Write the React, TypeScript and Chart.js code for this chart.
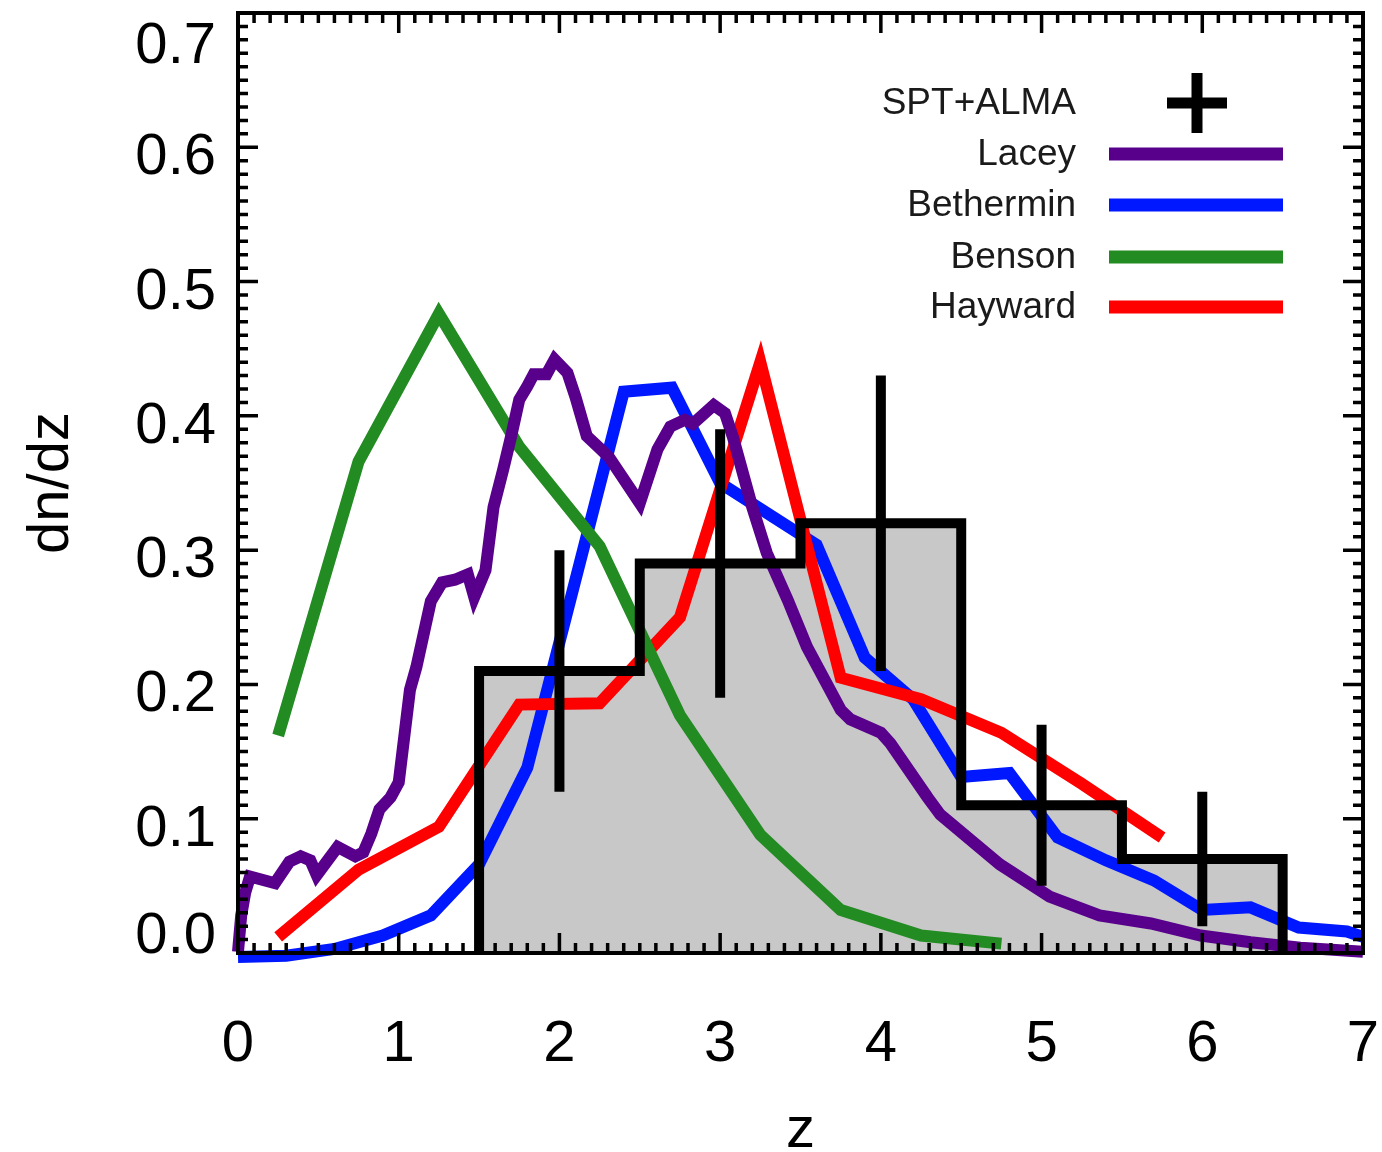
import React, { useEffect, useRef } from "react";
import { Chart, registerables } from "chart.js";

Chart.register(...registerables);

// ---------- data ----------
const xTickValues = [0, 1, 2, 3, 4, 5, 6, 7];
const xTickLabels = ["0", "1", "2", "3", "4", "5", "6", "7"];
const yTickValues = [0, 0.1, 0.2, 0.3, 0.4, 0.5, 0.6, 0.7];
const yTickLabels = ["0.0", "0.1", "0.2", "0.3", "0.4", "0.5", "0.6", "0.7"];
const xTitle = "z";
const yTitle = "dn/dz";

// SPT+ALMA histogram and error bars
const binEdges = [1.5, 2.5, 3.5, 4.5, 5.5, 6.5];
const binValues = [0.21, 0.29, 0.32, 0.11, 0.07];
const obsZ = [2, 3, 4, 5, 6];
const obsY = [0.21, 0.29, 0.32, 0.11, 0.07];
const obsErr = [0.09, 0.1, 0.11, 0.06, 0.05];

// Lacey
const laceyZ = [0.0, 0.02, 0.045, 0.075, 0.23, 0.32, 0.39, 0.45, 0.49, 0.62, 0.73, 0.78, 0.83, 0.88, 0.95, 1.0, 1.07, 1.11, 1.2, 1.27, 1.35, 1.43, 1.47, 1.54, 1.59, 1.65, 1.7, 1.75, 1.8, 1.84, 1.92, 1.97, 2.05, 2.1, 2.17, 2.25, 2.31, 2.5, 2.61, 2.69, 2.78, 2.83, 2.96, 3.03, 3.08, 3.2, 3.29, 3.42, 3.54, 3.75, 3.81, 4.0, 4.06, 4.29, 4.37, 4.74, 5.05, 5.36, 5.68, 5.99, 6.3, 6.61, 7.0];
const laceyY = [0.001, 0.028, 0.045, 0.057, 0.052, 0.068, 0.072, 0.069, 0.058, 0.079, 0.072, 0.075, 0.089, 0.107, 0.116, 0.127, 0.196, 0.213, 0.262, 0.276, 0.278, 0.282, 0.265, 0.285, 0.332, 0.36, 0.385, 0.412, 0.422, 0.431, 0.431, 0.442, 0.432, 0.414, 0.385, 0.376, 0.369, 0.335, 0.375, 0.392, 0.397, 0.394, 0.408, 0.402, 0.384, 0.332, 0.298, 0.263, 0.228, 0.181, 0.174, 0.164, 0.156, 0.116, 0.103, 0.066, 0.042, 0.028, 0.022, 0.013, 0.008, 0.004, 0.001];

// Bethermin
const bethZ = [0, 0.3, 0.6, 0.9, 1.2, 1.5, 1.8, 2.4, 2.7, 3.0, 3.6, 3.9, 4.2, 4.5, 4.8, 5.1, 5.4, 5.7, 6.0, 6.3, 6.6, 6.9, 7.0];
const bethY = [-0.003, -0.002, 0.003, 0.013, 0.028, 0.066, 0.138, 0.418, 0.421, 0.35, 0.304, 0.22, 0.189, 0.131, 0.134, 0.086, 0.069, 0.054, 0.032, 0.034, 0.019, 0.016, 0.012];

// Benson
const bensonZ = [0.25, 0.75, 1.25, 1.75, 2.25, 2.75, 3.25, 3.75, 4.25, 4.75];
const bensonY = [0.162, 0.366, 0.476, 0.377, 0.303, 0.177, 0.088, 0.032, 0.013, 0.007];

// Hayward
const haywardZ = [0.25, 0.75, 1.25, 1.75, 2.25, 2.75, 3.25, 3.75, 4.25, 4.75, 5.25, 5.75];
const haywardY = [0.012, 0.062, 0.094, 0.185, 0.186, 0.25, 0.44, 0.205, 0.189, 0.164, 0.126, 0.086];

const seriesNames = ["SPT+ALMA", "Lacey", "Bethermin", "Benson", "Hayward"];
const seriesColors = ["#000000", "#58008C", "#0018FF", "#228B22", "#FF0000"];
const histFill = "#C8C8C8";

// ---------- helpers ----------
const zip = (xs: number[], ys: number[]) => xs.map((x, i) => ({ x, y: ys[i] }));

function histPoints() {
  const pts: { x: number; y: number }[] = [{ x: binEdges[0], y: 0 }];
  for (let i = 0; i < binValues.length; i++) {
    pts.push({ x: binEdges[i], y: binValues[i] });
    pts.push({ x: binEdges[i + 1], y: binValues[i] });
  }
  pts.push({ x: binEdges[binEdges.length - 1], y: 0 });
  return pts;
}

function errorPoints() {
  const pts: { x: number; y: number | null }[] = [];
  obsZ.forEach((z, i) => {
    pts.push({ x: z, y: obsY[i] - obsErr[i] });
    pts.push({ x: z, y: obsY[i] + obsErr[i] });
    pts.push({ x: z, y: null });
  });
  return pts;
}

const FONT = '"Liberation Sans", Arial, Helvetica, sans-serif';

const idlAxesPlugin = {
  id: "idlAxes",
  afterDraw(chart: any) {
    const { ctx, chartArea: a, scales } = chart;
    const xs = scales.x;
    const ys = scales.y;
    ctx.save();
    ctx.strokeStyle = "#000";
    ctx.lineCap = "butt";
    // frame
    ctx.lineWidth = 4;
    ctx.strokeRect(a.left, a.top, a.right - a.left, a.bottom - a.top);
    // ticks
    ctx.lineWidth = 3.5;
    ctx.beginPath();
    for (let k = 0; k <= 70; k++) {
      const px = xs.getPixelForValue(k / 10);
      const len = k % 10 === 0 ? 20 : 10;
      ctx.moveTo(px, a.bottom);
      ctx.lineTo(px, a.bottom - len);
      ctx.moveTo(px, a.top);
      ctx.lineTo(px, a.top + len);
    }
    for (let k = 0; k <= 70; k++) {
      const py = ys.getPixelForValue(k / 100);
      const len = k % 10 === 0 ? 20 : 10;
      ctx.moveTo(a.left, py);
      ctx.lineTo(a.left + len, py);
      ctx.moveTo(a.right, py);
      ctx.lineTo(a.right - len, py);
    }
    ctx.stroke();

    // tick labels
    ctx.fillStyle = "#000";
    ctx.font = `58px ${FONT}`;
    ctx.textBaseline = "alphabetic";
    ctx.textAlign = "center";
    xTickValues.forEach((v, i) => {
      ctx.fillText(xTickLabels[i], xs.getPixelForValue(v), a.bottom + 108);
    });
    ctx.textAlign = "right";
    yTickValues.forEach((v, i) => {
      const py = ys.getPixelForValue(v);
      const base = Math.min(Math.max(py + 27, a.top + 50), a.bottom);
      ctx.fillText(yTickLabels[i], a.left - 22, base);
    });

    // axis titles
    ctx.textAlign = "center";
    ctx.fillText(xTitle, (a.left + a.right) / 2, a.bottom + 194);
    ctx.save();
    ctx.translate(68, (a.top + a.bottom) / 2);
    ctx.rotate(-Math.PI / 2);
    ctx.fillText(yTitle, 0, 0);
    ctx.restore();

    // legend
    const rowY = [103, 154, 205, 257, 307];
    ctx.font = `37px ${FONT}`;
    ctx.fillStyle = "#1a1a1a";
    ctx.textAlign = "right";
    ctx.textBaseline = "middle";
    seriesNames.forEach((name, i) => {
      ctx.fillText(name, 1076, rowY[i] + 1);
      if (i === 0) {
        ctx.strokeStyle = seriesColors[0];
        ctx.lineWidth = 11;
        ctx.beginPath();
        ctx.moveTo(1167, rowY[i]);
        ctx.lineTo(1227, rowY[i]);
        ctx.moveTo(1197, rowY[i] - 30);
        ctx.lineTo(1197, rowY[i] + 30);
        ctx.stroke();
      } else {
        ctx.strokeStyle = seriesColors[i];
        ctx.lineWidth = 13;
        ctx.beginPath();
        ctx.moveTo(1109, rowY[i]);
        ctx.lineTo(1283, rowY[i]);
        ctx.stroke();
      }
    });
    ctx.restore();
  },
};

export default function App() {
  const ref = useRef<HTMLCanvasElement | null>(null);

  useEffect(() => {
    if (!ref.current) return;
    const curve = (label: string, data: any, color: string, order: number) => ({
      type: "line",
      label,
      data,
      borderColor: color,
      backgroundColor: color,
      borderWidth: 12,
      pointRadius: 0,
      fill: false,
      tension: 0,
      borderJoinStyle: "miter",
      borderCapStyle: "butt",
      clip: 12,
      order,
    });
    const hp = histPoints();
    const chart = new Chart(ref.current, {
      type: "line",
      data: {
        datasets: [
          {
            label: "hist-outline",
            data: hp,
            borderColor: "#000",
            borderWidth: 10,
            pointRadius: 0,
            fill: false,
            borderJoinStyle: "miter",
            borderCapStyle: "butt",
            clip: 12,
            order: 0,
          },
          {
            label: seriesNames[0],
            data: errorPoints(),
            borderColor: "#000",
            borderWidth: 10,
            pointRadius: 0,
            fill: false,
            spanGaps: false,
            borderCapStyle: "butt",
            clip: 12,
            order: 0,
          },
          curve(seriesNames[1], zip(laceyZ, laceyY), seriesColors[1], 1),
          curve(seriesNames[3], zip(bensonZ, bensonY), seriesColors[3], 2),
          curve(seriesNames[4], zip(haywardZ, haywardY), seriesColors[4], 3),
          curve(seriesNames[2], zip(bethZ, bethY), seriesColors[2], 4),
          {
            label: "hist-fill",
            data: hp,
            borderWidth: 0,
            borderColor: "rgba(0,0,0,0)",
            backgroundColor: histFill,
            pointRadius: 0,
            fill: "origin",
            order: 5,
          },
        ] as any,
      },
      options: {
        responsive: false,
        animation: false,
        devicePixelRatio: 1,
        layout: { padding: { left: 0, right: 19, top: 13, bottom: 0 } },
        plugins: { legend: { display: false }, tooltip: { enabled: false } },
        scales: {
          x: {
            type: "linear",
            min: 0,
            max: 7,
            ticks: { display: false },
            grid: { display: false },
            border: { display: false },
            afterFit: (s: any) => {
              s.height = 199;
            },
          },
          y: {
            type: "linear",
            min: 0,
            max: 0.7,
            ticks: { display: false },
            grid: { display: false },
            border: { display: false },
            afterFit: (s: any) => {
              s.width = 238;
            },
          },
        },
      } as any,
      plugins: [idlAxesPlugin],
    });
    return () => chart.destroy();
  }, []);

  return (
    <div style={{ position: "absolute", left: 0, top: 0, width: 1382, height: 1152, background: "#fff" }}>
      <canvas ref={ref} width={1382} height={1152} style={{ display: "block" }} />
    </div>
  );
}
